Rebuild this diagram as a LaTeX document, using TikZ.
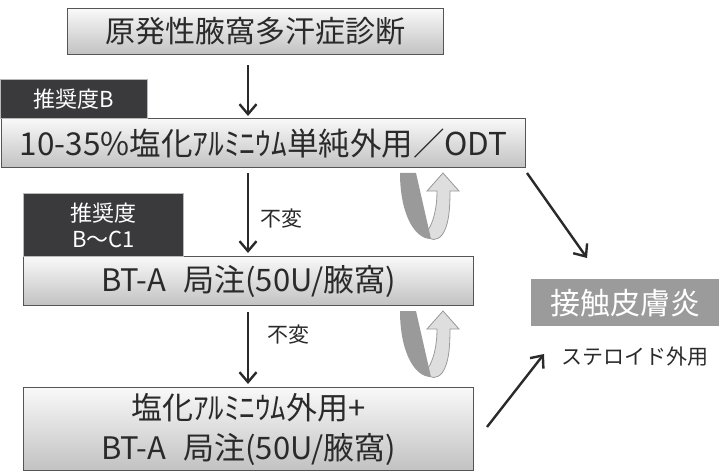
\documentclass[tikz,border=0pt]{standalone}
\usepackage{fontspec}
\setmainfont{Noto Sans CJK JP}
\usetikzlibrary{arrows.meta}
\definecolor{boxedge}{HTML}{555555}
\definecolor{darklab}{HTML}{3A3A3C}
\definecolor{contact}{HTML}{9B9B9B}
\definecolor{udark}{HTML}{9A9A9A}
\definecolor{ulight}{HTML}{DEDEDE}
\definecolor{txt}{HTML}{2A2A2A}
\tikzset{
  mainbox/.style={draw=boxedge, line width=1.2pt, top color=gray!5, bottom color=gray!48,
    inner sep=0pt, anchor=north west, font=\fontsize{30}{38}\selectfont, text=txt, align=center},
  labbox/.style={draw=gray!55, line width=0.8pt, fill=darklab, text=white, inner sep=0pt,
    anchor=north west, align=center, font=\fontsize{22}{26}\selectfont},
  flow/.style={line width=2.4pt, draw=txt,
    -{Straight Barb[length=10pt,width=17pt,line width=2.4pt]}},
  note/.style={font=\fontsize{21}{24}\selectfont, text=txt, inner sep=0pt},
  uturn/.pic={
    \fill[ulight, draw=udark, line width=0.8pt]
      (26,62) .. controls (30,68) and (37,68) .. (42,62)
      .. controls (48,54) and (50,40) .. (50,18) -- (59,18) -- (43,0) -- (27,18) -- (37,18)
      .. controls (37,36) and (33,50) .. (28,57) -- cycle;
    \fill[udark] (0,0) -- (16,0) -- (31,66) .. controls (14,66) and (0,40) .. (0,0) -- cycle;
  }
}
\begin{document}
\begin{tikzpicture}[x=1pt,y=-1pt]
\useasboundingbox (0,0) rectangle (723,476);

\node[mainbox, minimum width=376pt, minimum height=46pt] (b1) at (67,8) {原発性腋窩多汗症診断};
\node[mainbox, minimum width=524pt, minimum height=49pt, font=\fontsize{31.5}{38}\selectfont] (b2) at (1,118) {10-35\%塩化ｱﾙﾐﾆｳﾑ単純外用／ODT};
\node[labbox, minimum width=147pt, minimum height=39pt] (l1) at (0,79) {推奨度B};
\node[mainbox, minimum width=450pt, minimum height=49pt, font=\fontsize{31}{38}\selectfont] (b3) at (23,256) {BT-A\hspace{0.55em}局注(50U/腋窩)};
\node[labbox, minimum width=160pt, minimum height=63pt] (l2) at (23,193) {推奨度\\B〜C1};
\node[mainbox, minimum width=450pt, minimum height=83pt, font=\fontsize{31}{40}\selectfont] (b4) at (23,387) {塩化ｱﾙﾐﾆｳﾑ外用+\\BT-A\hspace{0.55em}局注(50U/腋窩)};
\node[fill=contact, inner sep=0pt, anchor=north west, minimum width=188pt, minimum height=47pt,
  text=white, font=\fontsize{30}{34}\selectfont] (c) at (531,279) {接触皮膚炎};

\node[note] (n1) at (281,219) {不変};
\node[note] (n2) at (288,335) {不変};
\node[note] (st) at (635,357) {ステロイド外用};

\coordinate (a1s) at (248,65);  \coordinate (a1e) at (248,116);
\coordinate (a2s) at (248,173); \coordinate (a2e) at (248,253);
\coordinate (a3s) at (248,312); \coordinate (a3e) at (248,384);
\coordinate (d1s) at (527,173); \coordinate (d1e) at (587,258);
\coordinate (d2s) at (487,427); \coordinate (d2e) at (544,354);

\draw[flow] (a1s) -- (a1e);
\draw[flow] (a2s) -- (a2e);
\draw[flow] (a3s) -- (a3e);
\draw[flow] (d1s) -- (d1e);
\draw[flow] (d2s) -- (d2e);

\pic at (400,173) {uturn};
\pic at (400,311) {uturn};
\end{tikzpicture}
\end{document}
